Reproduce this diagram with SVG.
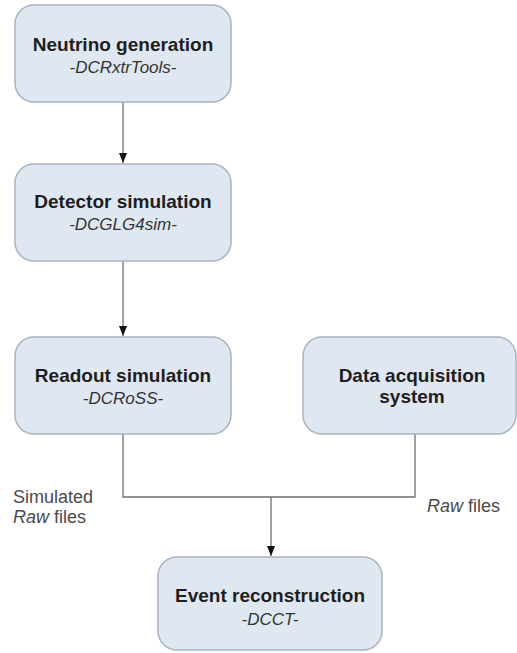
<svg xmlns="http://www.w3.org/2000/svg" width="517" height="653" viewBox="0 0 517 653">
<defs>
<style>
.box{fill:#dfe7f1;stroke:#a7b3c4;stroke-width:1.5}
.t{font-family:"Liberation Sans",Arial,sans-serif;font-size:19px;font-weight:bold;fill:#1e1e1e;text-anchor:middle}
.s{font-family:"Liberation Sans",Arial,sans-serif;font-size:17px;font-style:italic;fill:#333;text-anchor:middle}
.l{font-family:"Liberation Sans",Arial,sans-serif;font-size:18px;fill:#4a4a4a}
.c{fill:none;stroke:#6e6e6e;stroke-width:1.3}
</style>
<marker id="ah" markerWidth="10" markerHeight="12" refX="10" refY="4" orient="auto" markerUnits="userSpaceOnUse">
<path d="M0,0 L10,4 L0,8 Z" fill="#111"/>
</marker>
</defs>
<rect width="517" height="653" fill="#fff"/>
<g id="connectors">
<path class="c" d="M123,102 V163" marker-end="url(#ah)"/>
<path class="c" d="M123,261 V336" marker-end="url(#ah)"/>
<path class="c" d="M123,434 V497 H415 V434"/>
<path class="c" d="M271,497 V556" marker-end="url(#ah)"/>
</g>
<g id="neutrino">
<rect class="box" x="15" y="5" width="216" height="97" rx="19"/>
<text class="t" x="123" y="51">Neutrino generation</text>
<text class="s" x="123" y="73">-DCRxtrTools-</text>
</g>
<g id="detector">
<rect class="box" x="15" y="164" width="216" height="97" rx="19"/>
<text class="t" x="123" y="208">Detector simulation</text>
<text class="s" x="123" y="230">-DCGLG4sim-</text>
</g>
<g id="readout">
<rect class="box" x="15" y="337" width="216" height="97" rx="19"/>
<text class="t" x="123" y="382">Readout simulation</text>
<text class="s" x="123" y="404">-DCRoSS-</text>
</g>
<g id="daq">
<rect class="box" x="303" y="337" width="213" height="97" rx="19"/>
<text class="t" x="412" y="382">Data acquisition</text>
<text class="t" x="412" y="403">system</text>
</g>
<g id="event">
<rect class="box" x="158" y="557" width="224" height="93" rx="19"/>
<text class="t" x="270" y="602">Event reconstruction</text>
<text class="s" x="270" y="625">-DCCT-</text>
</g>
<g id="labels">
<text class="l" x="13" y="503">Simulated</text>
<text class="l" x="13" y="523"><tspan font-style="italic">Raw</tspan> files</text>
<text class="l" x="427" y="512"><tspan font-style="italic">Raw</tspan> files</text>
</g>
</svg>
